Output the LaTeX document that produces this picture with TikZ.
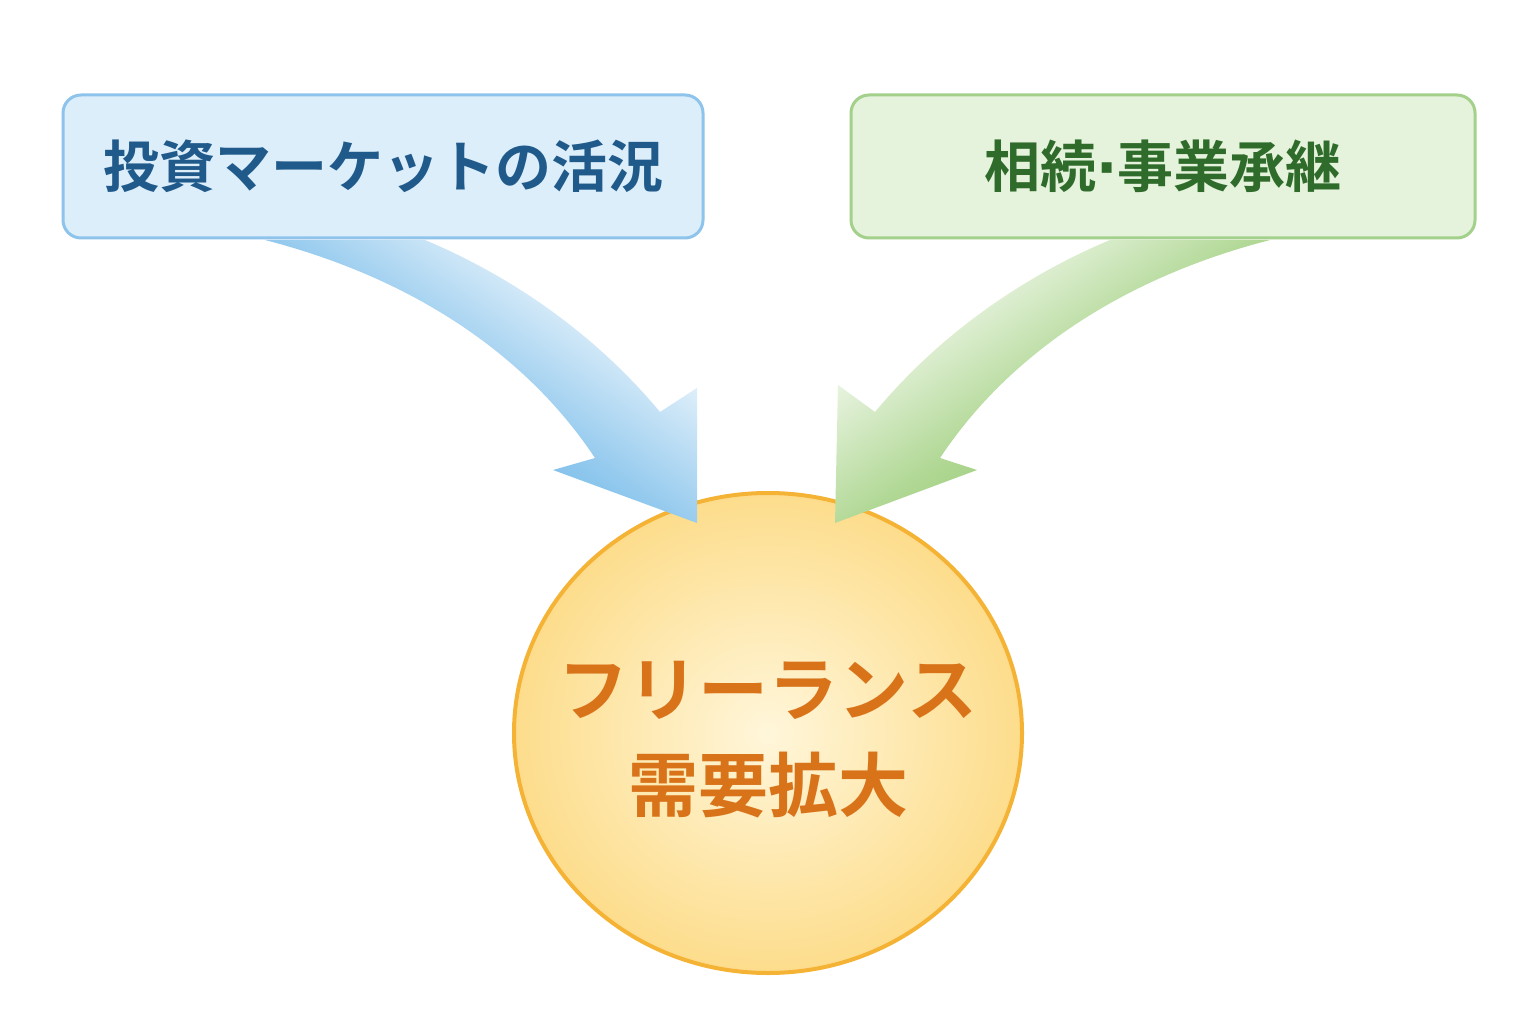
\documentclass[tikz,border=0pt]{standalone}
\usepackage{fontspec}
\usetikzlibrary{shapes.geometric}
\newfontfamily\jp{Noto Sans CJK JP}[BoldFont={Noto Sans CJK JP Bold}]
\definecolor{bfill}{HTML}{DDEEFB}\definecolor{bline}{HTML}{8EC3EC}\definecolor{btext}{HTML}{1F5A8A}
\definecolor{gfill}{HTML}{E6F3DC}\definecolor{gline}{HTML}{A3D08A}\definecolor{gtext}{HTML}{2F6B2A}
\definecolor{oline}{HTML}{F5B335}\definecolor{otext}{HTML}{D9731A}
\definecolor{ocen}{HTML}{FFF6DA}\definecolor{oedge}{HTML}{FDDD8C}
\definecolor{barrow}{HTML}{3E9FE0}\definecolor{garrow}{HTML}{7DBE4F}
\begin{document}
\begin{tikzpicture}[x=1pt,y=-1pt,
 box/.style={draw, line width=3pt, rounded corners=18pt, minimum width=640pt, minimum height=143pt, inner sep=0pt, font=\jp\bfseries\fontsize{56}{66}\selectfont}]
\useasboundingbox (0,0) rectangle (1536,1024);
\fill[white] (0,0) rectangle (1536,1024);
\node[box, fill=bfill, draw=bline, text=btext] (L) at (383,166.5) {投資マーケットの活況};
\node[box, fill=gfill, draw=gline, text=gtext, minimum width=624pt] (R) at (1163,166.5) {相続{\fontspec{DejaVu Sans}·}事業承継};
\path[draw=oline, line width=4pt, inner color=ocen, outer color=oedge] (768,733) ellipse [x radius=254, y radius=240];
\node[align=center, text=otext, font=\jp\bfseries\fontsize{70}{96}\selectfont] (C) at (768,740) {フリーランス\\需要拡大};
\shade[top color=white, bottom color=barrow, middle color=barrow!55, shading angle=-35]
 (265,240) .. controls (420,280) and (530,360) .. (595,458) -- (553,470) -- (697,523) -- (697,388) -- (660,412)
 .. controls (600,340) and (520,280) .. (425,240) -- cycle;
\shade[top color=white, bottom color=garrow, middle color=garrow!60, shading angle=35]
 (1270,240) .. controls (1115,280) and (1005,360) .. (940,458) -- (977,470) -- (835,523) -- (838,385) -- (875,412)
 .. controls (935,340) and (1015,280) .. (1110,240) -- cycle;
\end{tikzpicture}
\end{document}
